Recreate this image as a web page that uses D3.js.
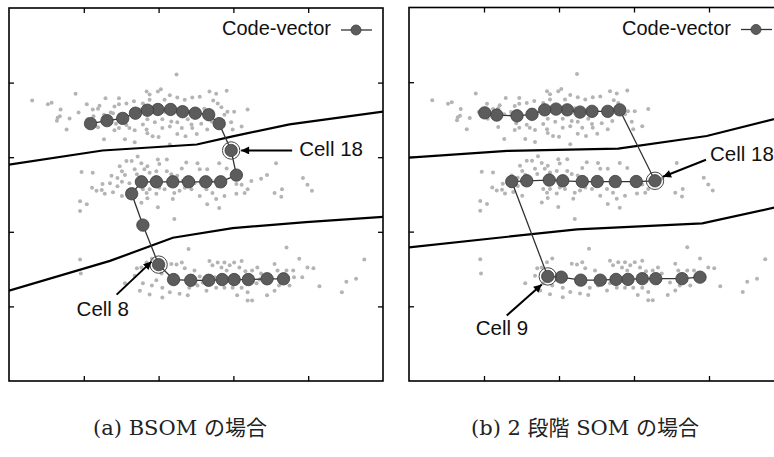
<!DOCTYPE html>
<html>
<head>
<meta charset="utf-8">
<script src="https://cdn.jsdelivr.net/npm/d3@7"></script>
<style>
  body { margin: 0; background: #fff; }
  text { font-family: "Liberation Sans", Arial, sans-serif; }
  .caption { font-family: "DejaVu Serif", "Noto Sans CJK JP", serif; }
</style>
</head>
<body>
<div id="chart"></div>
<script>
// input samples (same in both panels), x/y in plot units 0..5
var samples = [
  // upper cluster
  [0.31,3.76],[0.52,3.71],[0.57,3.73],[0.89,3.85],[0.69,3.64],[0.65,3.53],[0.64,3.49],[0.68,3.55],[0.81,3.52],[0.77,3.37],
  [0.93,3.60],[1.04,3.71],[1.12,3.64],[1.29,3.79],[1.47,3.79],[1.21,3.69],[1.19,3.65],[1.27,3.57],[1.36,3.60],[1.41,3.68],
  [1.47,3.71],[1.57,3.72],[1.67,3.75],[1.79,3.72],[1.84,3.88],[1.13,3.55],[1.19,3.40],[1.43,3.45],[1.47,3.39],[1.57,3.43],
  [1.41,3.36],[1.68,3.36],[1.61,3.39],[1.27,3.24],[1.55,3.24],[1.68,3.20],[1.79,3.44],[1.84,3.37],[1.39,3.59],[2.24,4.11],
  [1.99,3.88],[2.03,3.91],[1.88,3.84],[1.88,3.77],[2.15,3.83],[2.25,3.80],[2.08,3.77],[2.35,3.77],[2.45,3.80],[2.55,3.81],
  [2.68,3.88],[2.77,3.85],[2.91,3.89],[2.73,3.76],[2.79,3.72],[2.84,3.67],[3.19,3.64],[2.92,3.61],[3.01,3.61],[2.88,3.57],
  [1.85,3.51],[1.95,3.47],[2.05,3.51],[2.17,3.48],[2.25,3.47],[2.39,3.51],[2.44,3.44],[2.57,3.45],[2.71,3.48],[2.97,3.47],
  [3.11,3.41],[2.99,3.37],[2.05,3.39],[2.15,3.41],[2.31,3.39],[2.45,3.39],[2.65,3.37],[1.92,3.28],[2.00,3.27],[2.25,3.31],
  [2.36,3.28],[2.51,3.31],[1.85,3.32],[2.15,3.17],[1.75,3.64],[1.95,3.68],[2.08,3.61],[2.21,3.65],[2.41,3.61],[2.61,3.65],
  [1.48,3.57],[1.05,3.51],
  // middle cluster
  [0.97,2.80],[1.12,2.79],[1.11,2.59],[1.17,2.55],[1.24,2.56],[1.25,2.64],[1.28,2.51],[1.35,2.65],[1.37,2.75],[1.39,2.53],
  [1.45,2.72],[1.48,2.88],[1.51,2.81],[1.45,2.61],[1.51,2.67],[1.55,2.76],[1.57,2.95],[1.64,2.95],[1.61,2.65],[1.68,2.84],
  [1.71,2.77],[1.72,3.01],[1.77,2.92],[1.81,2.84],[1.85,2.88],[1.88,2.79],[1.79,2.57],[1.84,2.52],[1.88,2.57],[1.97,2.81],
  [1.99,2.97],[2.01,2.91],[2.11,2.97],[2.11,2.81],[2.17,2.77],[2.01,2.59],[2.08,2.57],[1.97,2.51],[1.99,2.33],[1.85,2.45],
  [1.77,2.39],[0.95,2.41],[1.04,2.37],[0.95,2.28],[2.19,2.44],[2.21,2.52],[1.51,2.48],[2.31,2.85],[2.37,2.93],[2.52,2.92],
  [2.55,2.84],[2.65,2.84],[2.81,2.92],[2.91,2.85],[2.35,2.59],[2.28,2.55],[2.44,2.57],[2.55,2.48],[2.64,2.57],[2.72,2.52],
  [2.77,2.44],[2.65,2.37],[2.81,2.32],[2.88,2.48],[3.04,2.64],[3.11,2.63],[3.15,2.52],[3.04,2.51],[3.19,2.57],[3.24,2.68],
  [3.37,2.71],[3.45,2.76],[3.57,2.92],[3.55,2.52],[3.65,2.57],[3.64,2.47],[3.93,2.72],[3.99,2.63],[4.05,2.55],[2.48,2.65],
  [2.71,2.68],[2.79,2.61],[2.32,2.68],[2.25,2.75],
  // lower cluster
  [2.21,2.17],[2.40,1.77],[1.71,1.51],[1.77,1.52],[1.84,1.59],[1.91,1.64],[1.68,1.41],[1.55,1.31],[1.79,1.31],[1.91,1.28],
  [1.97,1.35],[2.04,1.44],[2.05,1.25],[2.17,1.57],[2.24,1.56],[2.31,1.59],[2.35,1.51],[2.48,1.48],[2.41,1.25],[2.52,1.28],
  [2.59,1.32],[2.68,1.61],[2.72,1.55],[2.79,1.59],[2.84,1.52],[2.88,1.59],[2.91,1.48],[2.95,1.55],[3.01,1.59],[2.64,1.21],
  [2.77,1.25],[2.88,1.25],[2.15,1.19],[2.28,1.17],[2.39,1.15],[2.05,1.12],[2.99,1.25],[1.75,1.21],[1.88,1.16],[0.95,1.63],
  [0.96,1.44],[3.71,1.79],[3.88,1.64],[3.99,1.52],[4.07,1.51],[3.80,1.48],[3.81,1.39],[3.92,1.39],[4.15,1.27],[3.55,1.57],
  [3.59,1.48],[3.71,1.48],[3.32,1.52],[3.11,1.61],[3.08,1.52],[3.16,1.47],[3.25,1.48],[3.37,1.44],[3.31,1.31],[3.48,1.32],
  [3.55,1.21],[3.45,1.15],[3.61,1.28],[3.75,1.28],[3.11,1.25],[3.19,1.19],[3.05,1.15],[3.19,1.08],[3.25,1.08],[4.51,1.33],
  [4.64,1.37],[4.45,1.19],[4.75,1.63],[2.55,1.40],[2.75,1.39],[2.95,1.37],[3.15,1.39],[3.35,1.36],[2.68,1.31]
];

// code vectors, cell 0 .. cell 29
var bsomCells = [
  [3.67,1.37],[3.45,1.37],[3.20,1.36],[3.01,1.36],[2.85,1.36],[2.67,1.35],[2.43,1.35],[2.20,1.36],[2.00,1.56],[1.79,2.09],
  [1.64,2.51],[1.77,2.67],[1.97,2.67],[2.19,2.67],[2.40,2.67],[2.63,2.67],[2.83,2.67],[3.04,2.76],[2.97,3.09],[2.81,3.45],
  [2.67,3.57],[2.49,3.59],[2.32,3.61],[2.16,3.64],[1.99,3.64],[1.85,3.63],[1.69,3.59],[1.52,3.52],[1.31,3.49],[1.09,3.45]
];
var twoStageCells = [
  [3.88,1.39],[3.64,1.37],[3.29,1.37],[3.11,1.37],[2.92,1.36],[2.76,1.36],[2.55,1.35],[2.29,1.35],[2.03,1.39],[1.85,1.40],
  [1.37,2.67],[1.57,2.68],[1.87,2.69],[2.05,2.68],[2.31,2.67],[2.51,2.67],[2.75,2.67],[3.03,2.67],[3.28,2.68],[2.81,3.63],
  [2.65,3.61],[2.44,3.61],[2.28,3.60],[2.11,3.63],[1.96,3.64],[1.81,3.63],[1.64,3.57],[1.44,3.55],[1.17,3.56],[1.01,3.59]
];

// class boundaries
var bsomBoundaries = [
  [[0,2.90],[1.25,3.09],[2.51,3.17],[2.99,3.28],[3.75,3.44],[5,3.61]],
  [[0,1.21],[1.35,1.61],[2.19,1.92],[2.99,2.05],[3.97,2.13],[5,2.20]]
];
var twoStageBoundaries = [
  [[0,2.99],[1.31,3.08],[2.79,3.11],[3.97,3.28],[5,3.54]],
  [[0,1.79],[2.24,2.03],[3.91,2.11],[5,2.35]]
];

var tickValues = [1, 2, 3, 4];
var legendLabel = "Code-vector";
var captions = ["(a) BSOM の場合", "(b) 2 段階 SOM の場合"];

// highlighted cells: index, label, text offset, arrow start, arrow tip (px from node)
var bsomNotes = [
  {cell: 18, label: "Cell 18", text: [68, 6], from: [61, 0], to: [10, 0]},
  {cell: 8, label: "Cell 8", text: [-82, 51], from: [-42, 30], to: [-7, -3]}
];
var twoStageNotes = [
  {cell: 18, label: "Cell 18", text: [55, -20], from: [51, -21], to: [8, -4]},
  {cell: 9, label: "Cell 9", text: [-72, 59], from: [-41, 39], to: [-6, 8]}
];

var svgWidth = 774;
var svgHeight = 457;

var svg = d3.select("#chart")
  .append("svg")
  .attr("width", svgWidth)
  .attr("height", svgHeight);

svg.append("defs").append("marker")
  .attr("id", "arrow")
  .attr("viewBox", "0 0 10 10")
  .attr("refX", 10)
  .attr("refY", 5)
  .attr("markerWidth", 10)
  .attr("markerHeight", 8)
  .attr("markerUnits", "userSpaceOnUse")
  .attr("orient", "auto")
  .append("path")
  .attr("d", "M0,0 L10,5 L0,10 Z")
  .attr("fill", "#000");

var panels = [
  {id: "a", left: 9, top: 8, width: 374, height: 373, cells: bsomCells, bounds: bsomBoundaries, notes: bsomNotes, caption: captions[0], capX: 180},
  {id: "b", left: 409, top: 7.5, width: 375, height: 373.5, cells: twoStageCells, bounds: twoStageBoundaries, notes: twoStageNotes, caption: captions[1], capX: 585}
];

panels.forEach(function(p) {
  var x = d3.scaleLinear().domain([0, 5]).range([0, p.width]);
  var y = d3.scaleLinear().domain([0, 5]).range([p.height, 0]);

  var g = svg.append("g").attr("transform", `translate(${p.left}, ${p.top})`);

  g.append("clipPath").attr("id", "clip-" + p.id)
    .append("rect").attr("width", p.width).attr("height", p.height);

  var plot = g.append("g").attr("clip-path", `url(#clip-${p.id})`);

  // samples
  plot.selectAll("circle.sample")
    .data(samples)
    .enter()
    .append("circle")
    .attr("class", "sample")
    .attr("cx", d => x(d[0]))
    .attr("cy", d => y(d[1]))
    .attr("r", 2)
    .attr("fill", "#b4b4b4");

  // boundaries
  var line = d3.line().x(d => x(d[0])).y(d => y(d[1]));
  plot.selectAll("path.bound")
    .data(p.bounds)
    .enter()
    .append("path")
    .attr("class", "bound")
    .attr("d", line)
    .attr("fill", "none")
    .attr("stroke", "#000")
    .attr("stroke-width", 2.2);

  // code-vector chain
  plot.append("path")
    .attr("d", line(p.cells))
    .attr("fill", "none")
    .attr("stroke", "#333")
    .attr("stroke-width", 1.3);

  plot.selectAll("circle.node")
    .data(p.cells)
    .enter()
    .append("circle")
    .attr("class", "node")
    .attr("cx", d => x(d[0]))
    .attr("cy", d => y(d[1]))
    .attr("r", 6.2)
    .attr("fill", "#5c5c5c")
    .attr("stroke", "#3c3c3c")
    .attr("stroke-width", 0.8);

  // highlighted cells
  p.notes.forEach(function(n) {
    var cx = x(p.cells[n.cell][0]);
    var cy = y(p.cells[n.cell][1]);
    plot.append("circle")
      .attr("cx", cx).attr("cy", cy).attr("r", 8.7)
      .attr("fill", "none")
      .attr("stroke", "#444")
      .attr("stroke-width", 1);
    g.append("line")
      .attr("x1", cx + n.from[0]).attr("y1", cy + n.from[1])
      .attr("x2", cx + n.to[0]).attr("y2", cy + n.to[1])
      .attr("stroke", "#000")
      .attr("stroke-width", 2)
      .attr("marker-end", "url(#arrow)");
    g.append("text")
      .attr("x", cx + n.text[0]).attr("y", cy + n.text[1])
      .attr("font-size", "20.5px")
      .attr("fill", "#111")
      .text(n.label);
  });

  // inward ticks on all four sides
  var axes = [
    {axis: d3.axisBottom(x), t: `translate(0, ${p.height})`},
    {axis: d3.axisTop(x), t: "translate(0, 0)"},
    {axis: d3.axisLeft(y), t: "translate(0, 0)"},
    {axis: d3.axisRight(y), t: `translate(${p.width}, 0)`}
  ];
  axes.forEach(function(a) {
    var ax = g.append("g")
      .attr("transform", a.t)
      .call(a.axis.tickValues(tickValues).tickSizeInner(-5).tickSizeOuter(0).tickFormat(""));
    ax.select(".domain").remove();
    ax.selectAll("line").attr("stroke", "#000").attr("stroke-width", 1.3);
  });

  g.append("rect")
    .attr("width", p.width)
    .attr("height", p.height)
    .attr("fill", "none")
    .attr("stroke", "#000")
    .attr("stroke-width", 1.6);

  // legend
  var lg = g.append("g").attr("transform", "translate(213, 0)");
  lg.append("text")
    .attr("x", 0).attr("y", 27)
    .attr("font-size", "20px")
    .attr("fill", "#111")
    .text(legendLabel);
  lg.append("line")
    .attr("x1", 119).attr("x2", 150).attr("y1", 22).attr("y2", 22)
    .attr("stroke", "#333").attr("stroke-width", 1.3);
  lg.append("circle")
    .attr("cx", 134).attr("cy", 22).attr("r", 5)
    .attr("fill", "#5c5c5c").attr("stroke", "#3c3c3c").attr("stroke-width", 0.8);

  // caption
  svg.append("text")
    .attr("class", "caption")
    .attr("x", p.capX)
    .attr("y", 435)
    .attr("text-anchor", "middle")
    .attr("font-size", "21px")
    .attr("fill", "#222")
    .text(p.caption);
});
</script>
</body>
</html>
